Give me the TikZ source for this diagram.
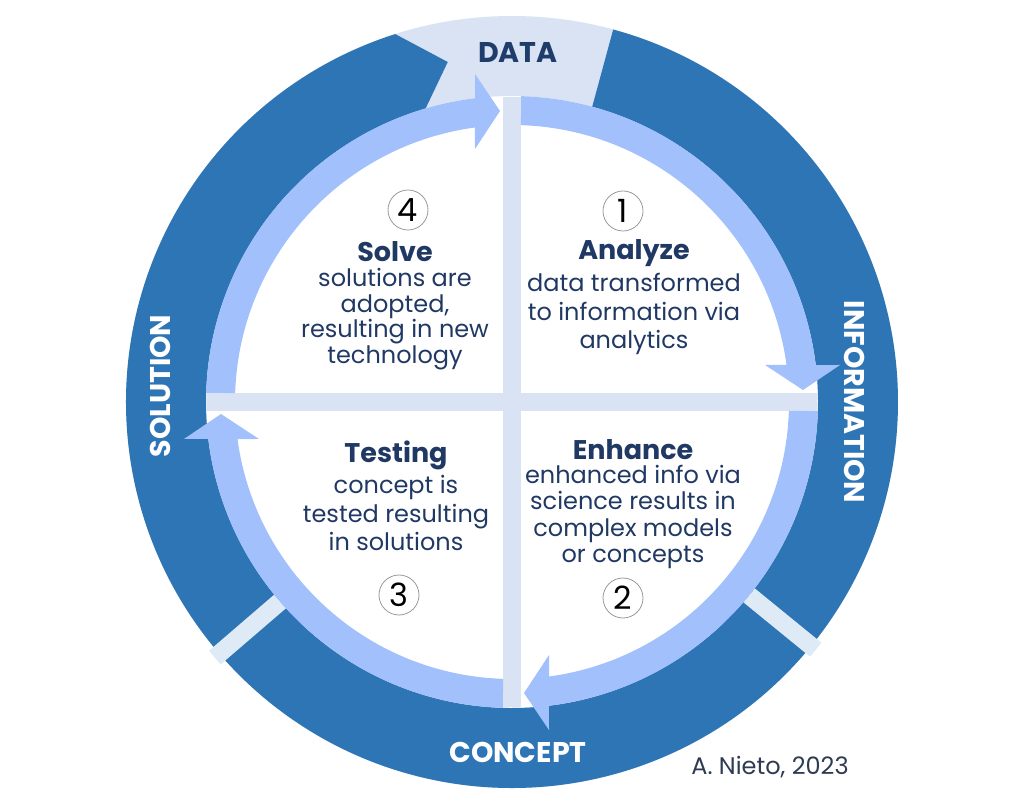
\documentclass[tikz,border=0pt]{standalone}
\usepackage{fontspec}
\setmainfont{Poppins}
\definecolor{ringdark}{HTML}{2E75B6}
\definecolor{ringlight}{HTML}{DAE3F3}
\definecolor{barlight}{HTML}{DEEBF7}
\definecolor{arrowblue}{HTML}{A2C0FC}
\definecolor{navy}{HTML}{203864}
\definecolor{datanavy}{HTML}{1F3D6B}
\definecolor{signgray}{HTML}{2F3B52}
\tikzset{
  ringlbl/.style={inner sep=0pt, font=\fontsize{28.5}{32}\selectfont\bfseries},
  headlbl/.style={inner sep=0pt, text=navy, font=\fontsize{27}{30}\selectfont\bfseries},
  bodylbl/.style={inner sep=0pt, text=navy, align=center, font=\fontsize{24}{#1}\selectfont},
  numlbl/.style={circle, draw=gray!80, line width=0.8pt, minimum size=40pt, inner sep=0pt, font=\fontsize{32}{32}\selectfont},
  arrowband/.style={fill=arrowblue},
}
\begin{document}
\begin{tikzpicture}[x=1pt,y=1pt]
\useasboundingbox (-512,-408) rectangle (512,402);
% light outer ring (DATA sector shows through)
\fill[ringlight, even odd rule] (0,0) circle[radius=386] (0,0) circle[radius=306];
% dark segments
\fill[ringdark] (74.8:386) arc[start angle=74.8, end angle=-40, radius=386] -- (-40:306) arc[start angle=-40, end angle=74.8, radius=306] -- cycle;
\fill[ringdark] (-40:386) arc[start angle=-40, end angle=-140, radius=386] -- (-140:306) arc[start angle=-140, end angle=-40, radius=306] -- cycle;
\fill[ringdark] (220:386) arc[start angle=220, end angle=107.6, radius=386] -- (100.7:346) -- (106.4:306) arc[start angle=106.4, end angle=220, radius=306] -- cycle;
% separator bars
\fill[barlight, rotate=-39.2] (306,-9) rectangle (392,9);
\fill[barlight, rotate=-139.3] (306,-9) rectangle (392,9);
% cross dividers
\fill[ringlight] (-9,-305) rectangle (9,305);
\fill[ringlight] (-305,-9) rectangle (305,9);
% inner arrows
\foreach \r in {0,-90,-180,-270}{
  \begin{scope}[rotate=\r]
    \fill[arrowband] (88.31:306) arc[start angle=88.31, end angle=6.94, radius=306] -- (328,37) -- (291,12) -- (253,37) -- (7.68:277) arc[start angle=7.68, end angle=88.14, radius=277] -- cycle;
  \end{scope}
}
% ring labels
\node[ringlbl, text=datanavy] (data) at (6,349) {DATA};
\node[ringlbl, text=white] (concept) at (6,-350) {CONCEPT};
\node[ringlbl, text=white, rotate=-90] (info) at (343,0) {INFORMATION};
\node[ringlbl, text=white, rotate=90] (sol) at (-352,16) {SOLUTION};
% quadrant 1
\node[numlbl] (n1) at (111,191) {1};
\node[headlbl] (h1) at (122,149) {Analyze};
\node[bodylbl=28.5] (b1) at (122,88) {data transformed\\to information via\\analytics};
% quadrant 4
\node[numlbl] (n4) at (-104,192) {4};
\node[headlbl] (h4) at (-117,150) {Solve};
\node[bodylbl=25.5] (b4) at (-117,83) {solutions are\\adopted,\\resulting in new\\technology};
% quadrant 2
\node[headlbl] (h2) at (121,-48) {Enhance};
\node[bodylbl=26.5] (b2) at (121,-115) {enhanced info via\\science results in\\complex models\\or concepts};
\node[numlbl] (n2) at (111,-196) {2};
% quadrant 3
\node[headlbl] (h3) at (-116,-53) {Testing};
\node[bodylbl=28.5] (b3) at (-116,-111) {concept is\\tested resulting\\in solutions};
\node[numlbl] (n3) at (-113,-193) {3};
% signature
\node[inner sep=0pt, text=signgray, font=\fontsize{24}{28}\selectfont] (sig) at (258,-365) {A. Nieto, 2023};
\end{tikzpicture}
\end{document}
